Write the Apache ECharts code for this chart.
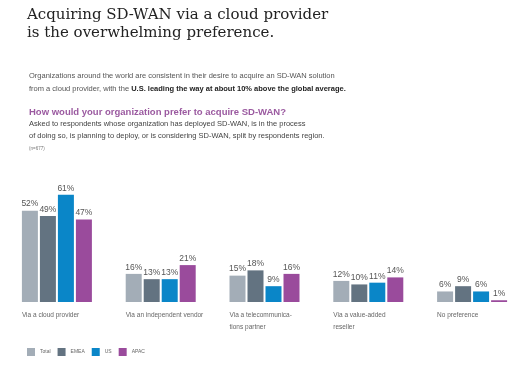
<!DOCTYPE html>
<html><head><meta charset="utf-8">
<script src="https://cdn.jsdelivr.net/npm/echarts@6/dist/echarts.min.js"></script>
<style>html,body{margin:0;padding:0;background:#fff}#c{width:526px;height:365px}</style>
</head><body><div id="c"></div>
<script>
const categories = ["Via a cloud provider","Via an independent vendor","Via a telecommunica-\ntions partner","Via a value-added\nreseller","No preference"];
const seriesNames = ["Total","EMEA","US","APAC"];
const total = [52,16,15,12,6];
const emea = [49,13,18,10,9];
const us = [61,13,9,11,6];
const apac = [47,21,16,14,1];
const colors = ["#a3adb7","#637381","#0a86c8","#9a4b9c"];
const values = [total, emea, us, apac];

const chart = echarts.init(document.getElementById('c'));
const font = "Liberation Sans, Arial, sans-serif";
chart.setOption({
  animation:false,
  title:[
    {text:"Acquiring SD-WAN via a cloud provider\nis the overwhelming preference.",left:22,top:1,
     textStyle:{fontFamily:"DejaVu Serif",fontSize:15,fontWeight:'normal',color:'#222',lineHeight:18}},
    {text:"{n|Organizations around the world are consistent in their desire to acquire an SD-WAN solution}\n{n|from a cloud provider, with the }{b|U.S. leading the way at about 10% above the global average.}",
     left:24,top:64.5,
     textStyle:{fontFamily:font,fontSize:7.5,fontWeight:'normal',color:'#555',lineHeight:13,
       rich:{n:{fontFamily:font,fontSize:7.5,fontWeight:'normal',color:'#555',lineHeight:13},b:{fontFamily:font,fontSize:7.5,color:'#222',fontWeight:'bold',lineHeight:13}}}},
    {text:"How would your organization prefer to acquire SD-WAN?",left:24,top:102.5,
     textStyle:{fontFamily:font,fontSize:9.5,fontWeight:'bold',color:'#9b5aa0'}},
    {text:"Asked to respondents whose organization has deployed SD-WAN, is in the process\nof doing so, is planning to deploy, or is considering SD-WAN, split by respondents region.",
     left:24,top:113,textStyle:{fontFamily:font,fontSize:7.5,fontWeight:'normal',color:'#444',lineHeight:12}},
    {text:"(n=677)",left:24,top:141.5,textStyle:{fontFamily:font,fontSize:4.5,fontWeight:'normal',color:'#777'}}
  ],
  legend:{left:22,top:343,itemWidth:8,itemHeight:8,itemGap:7,icon:'rect',
    textStyle:{fontFamily:font,fontSize:5,color:'#666'},data:seriesNames},
  grid:{left:5,right:2,top:179,bottom:63,outerBoundsMode:'none',containLabel:false},
  xAxis:{type:'category',data:categories,
    axisLine:{show:false},axisTick:{show:false},
    axisLabel:{interval:0,align:'left',padding:[0,0,0,-35],margin:7,fontFamily:font,fontSize:6.5,color:'#666',lineHeight:12,verticalAlign:'top',hideOverlap:false}},
  yAxis:{type:'value',min:0,max:70,show:false,splitLine:{show:false}},
  series: seriesNames.map((n,i)=>({name:n,type:'bar',data:values[i],barWidth:16,barGap:'12.5%',
    itemStyle:{color:colors[i]},
    label:{show:true,position:'top',distance:2,formatter:'{c}%',fontFamily:font,fontSize:8.5,color:'#555'}}))
});
</script></body></html>
